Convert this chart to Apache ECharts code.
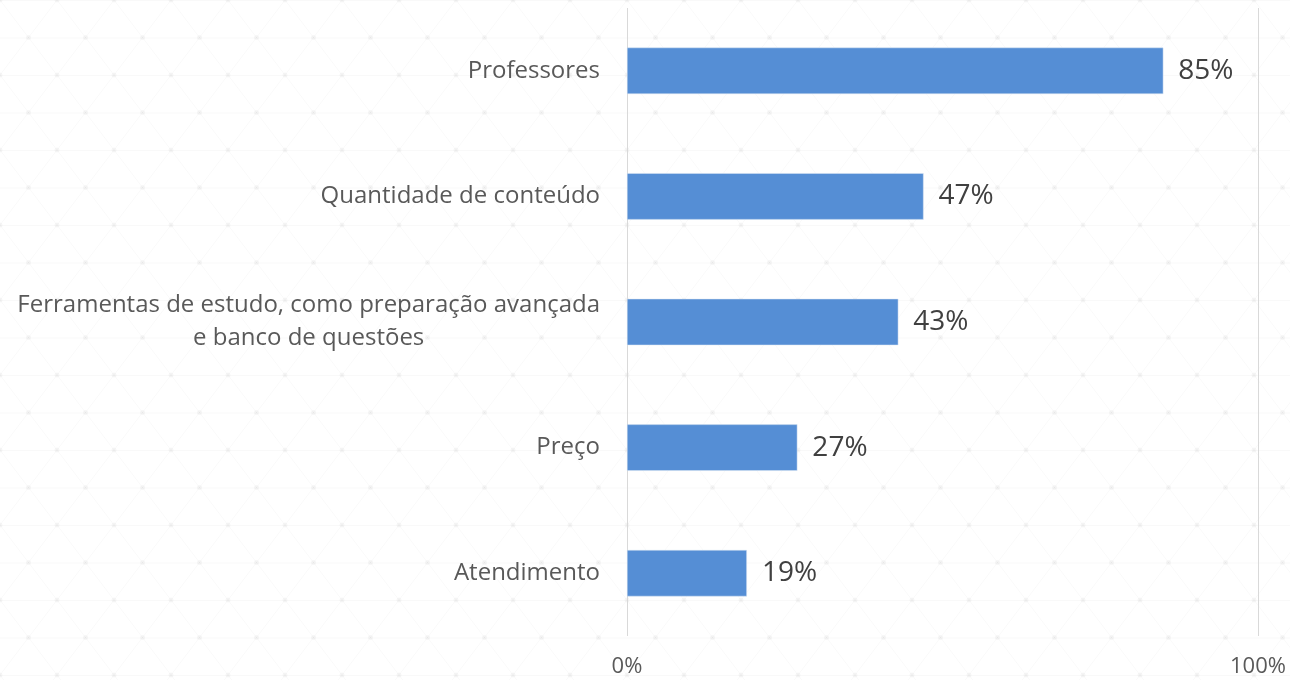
<!DOCTYPE html>
<html>
<head>
<meta charset="utf-8">
<script src="https://cdn.jsdelivr.net/npm/echarts@6/dist/echarts.min.js"></script>
<style>
  html, body { margin: 0; padding: 0; background: #fff; }
  #main { width: 1290px; height: 680px; }
</style>
</head>
<body>
<div id="main"></div>
<script>
var categories = [
    'Professores',
    'Quantidade de conteúdo',
    'Ferramentas de estudo, como preparação avançada\ne banco de questões',
    'Preço',
    'Atendimento'
];
var values = [85, 47, 43, 27, 19];

// faint triangle lattice used as page background
function makePattern() {
    var w = 57, h = 75;
    var c = document.createElement('canvas');
    c.width = w; c.height = h;
    var ctx = c.getContext('2d');
    ctx.fillStyle = '#ffffff';
    ctx.fillRect(0, 0, w, h);
    ctx.strokeStyle = 'rgba(0,0,0,0.025)';
    ctx.lineWidth = 1;
    ctx.beginPath();
    ctx.moveTo(0, 0.5); ctx.lineTo(w, 0.5);
    ctx.moveTo(0, 38); ctx.lineTo(w, 38);
    for (var k = -1; k <= 1; k++) {
        ctx.moveTo(k * w, 0); ctx.lineTo(k * w + w, h);
        ctx.moveTo(k * w + w, 0); ctx.lineTo(k * w, h);
    }
    ctx.stroke();
    ctx.fillStyle = 'rgba(0,0,0,0.035)';
    [[0, 0], [w, 0], [0, h], [w, h], [w / 2, h / 2]].forEach(function (p) {
        ctx.beginPath();
        ctx.arc(p[0], p[1], 2.5, 0, Math.PI * 2);
        ctx.fill();
    });
    return c;
}

var chart = echarts.init(document.getElementById('main'));

var option = {
    backgroundColor: { image: makePattern(), repeat: 'repeat' },
    textStyle: { fontFamily: 'Open Sans' },
    grid: { left: 627, right: 32, top: 8, bottom: 44 },
    xAxis: {
        type: 'value',
        min: 0,
        max: 100,
        interval: 100,
        axisLine: { show: false },
        axisTick: { show: false },
        splitLine: { lineStyle: { color: '#d9d9d9', width: 1 } },
        axisLabel: {
            formatter: '{value}%',
            color: '#595959',
            fontSize: 22,
            margin: 20
        }
    },
    yAxis: {
        type: 'category',
        data: categories,
        inverse: true,
        axisLine: { show: false },
        axisTick: { show: false },
        axisLabel: {
            margin: 27,
            formatter: function (v) {
                // centre each line inside the right-aligned block
                return v.split('\n').map(function (l) { return '{c|' + l + '}'; }).join('\n');
            },
            rich: {
                c: { align: 'center', color: '#595959', fontSize: 24, lineHeight: 33, fontFamily: 'Open Sans' }
            }
        }
    },
    series: [{
        type: 'bar',
        data: values,
        barWidth: '37%',
        itemStyle: { color: '#558ed5', borderColor: '#dce6f2', borderWidth: 0.5 },
        label: {
            show: true,
            position: 'right',
            distance: 15,
            formatter: '{c}%',
            color: '#404040',
            fontSize: 28
        }
    }]
};

chart.setOption(option);
</script>
</body>
</html>
